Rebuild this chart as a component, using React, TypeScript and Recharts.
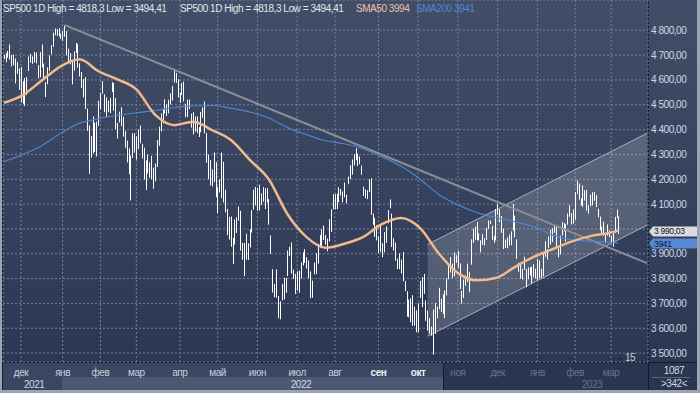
import {
  ComposedChart,
  Bar,
  Line,
  Area,
  XAxis,
  YAxis,
  CartesianGrid,
  ReferenceLine,
} from 'recharts';

const FONT = '"Liberation Sans", Arial, sans-serif';

// daily high / low, 17 Nov 2021 .. 7 Mar 2023
const highs = [
  // nov 2021
  4701, 4708, 4717, 4743, 4701, 4702, 4686, 4672, 4646,
  // dec
  4652, 4595, 4608, 4612, 4695, 4705, 4695, 4713, 4710, 4660, 4712, 4743, 4666, 4591, 4651, 4699, 4740, 4791, 4807, 4805, 4808, 4787,
  // jan 2022
  4797, 4819, 4797, 4726, 4708, 4673, 4715, 4749, 4745, 4667, 4632, 4603, 4611, 4485, 4417, 4375, 4453, 4428, 4432, 4516,
  // feb
  4547, 4595, 4542, 4530, 4517, 4527, 4591, 4588, 4527, 4427, 4472, 4490, 4452, 4395, 4356, 4324, 4295, 4385, 4385,
  // mar
  4373, 4401, 4416, 4343, 4327, 4276, 4299, 4268, 4294, 4247, 4263, 4358, 4412, 4465, 4482, 4522, 4501, 4520, 4546, 4576, 4637, 4628, 4603,
  // apr
  4549, 4587, 4593, 4504, 4521, 4521, 4464, 4471, 4453, 4453, 4410, 4471, 4489, 4513, 4386, 4299, 4277, 4240, 4308, 4269,
  // may
  4169, 4200, 4308, 4270, 4158, 4081, 4049, 4050, 3964, 4038, 4047, 4090, 4073, 3945, 3943, 3981, 3942, 3999, 4076, 4158, 4169,
  // jun
  4166, 4178, 4143, 4168, 4164, 4164, 4120, 3974, 3838, 3778, 3837, 3730, 3708, 3779, 3803, 3802, 3913, 3928, 3945, 3836, 3819,
  // jul
  3829, 3832, 3865, 3906, 3919, 3886, 3873, 3829, 3792, 3864, 3903, 3940, 3975, 3999, 4013, 3975, 3961, 4039, 4079, 4140,
  // aug
  4140, 4141, 4168, 4161, 4151, 4187, 4138, 4211, 4257, 4280, 4301, 4325, 4303, 4292, 4255, 4170, 4159, 4156, 4200, 4204, 4062, 4044, 4015,
  // sep
  3970, 4018, 3942, 3987, 4010, 4076, 4119, 4062, 3962, 3945, 3880, 3902, 3876, 3907, 3790, 3749, 3715, 3720, 3733, 3687, 3672,
  // oct
  3700, 3791, 3806, 3819, 3712, 3671, 3641, 3607, 3675, 3702, 3687, 3763, 3718, 3736, 3752, 3800, 3862, 3887, 3860, 3905, 3894,
  // nov
  3911, 3861, 3751, 3796, 3813, 3860, 3826, 3958, 4001, 4009, 4028, 3983, 3954, 3979, 3962, 4004, 4034, 4034, 4012, 3972, 4080,
  // dec
  4101, 4080, 4052, 4001, 3957, 3966, 3977, 3990, 4101, 4053, 3958, 3864, 3864, 3839, 3888, 3839, 3845, 3846, 3848, 3858, 3840,
  // jan 2023
  3879, 3874, 3839, 3906, 3951, 3919, 3970, 3997, 4003, 4015, 4015, 3922, 3973, 4027, 4024, 4019, 4062, 4095, 4063, 4078,
  // feb
  4148, 4195, 4183, 4124, 4176, 4156, 4157, 4094, 4138, 4148, 4148, 4136, 4081, 4050, 4010, 4029, 3982, 4018, 3994,
  // mar
  3972, 3984, 4049, 4078, 4050,
];

const lows = [
  // nov 2021
  4684, 4672, 4690, 4682, 4655, 4659, 4586, 4625, 4560,
  // dec
  4510, 4504, 4495, 4540, 4636, 4670, 4665, 4671, 4667, 4606, 4611, 4650, 4600, 4531, 4583, 4636, 4703, 4734, 4780, 4778, 4775, 4765,
  // jan 2022
  4758, 4774, 4699, 4671, 4663, 4582, 4638, 4709, 4650, 4614, 4568, 4530, 4483, 4395, 4222, 4287, 4304, 4310, 4292, 4415,
  // feb
  4483, 4545, 4470, 4452, 4471, 4466, 4551, 4477, 4402, 4364, 4429, 4414, 4372, 4327, 4268, 4221, 4114, 4286, 4307,
  // mar
  4279, 4322, 4345, 4284, 4199, 4157, 4223, 4206, 4200, 4162, 4192, 4250, 4335, 4393, 4425, 4465, 4455, 4465, 4501, 4517, 4590, 4588, 4530,
  // apr
  4507, 4539, 4514, 4450, 4451, 4483, 4408, 4381, 4392, 4387, 4370, 4389, 4448, 4385, 4267, 4200, 4175, 4171, 4188, 4128,
  // may
  4063, 4147, 4124, 4107, 4067, 3975, 3957, 3928, 3859, 3937, 3984, 4033, 3913, 3876, 3810, 3876, 3875, 3925, 3985, 4078, 4095,
  // jun
  4073, 4075, 4096, 4110, 4080, 4107, 4017, 3900, 3744, 3725, 3723, 3640, 3636, 3712, 3716, 3743, 3810, 3891, 3820, 3799, 3738,
  // jul
  3752, 3743, 3800, 3853, 3863, 3840, 3802, 3721, 3723, 3818, 3818, 3860, 3926, 3928, 3955, 3937, 3910, 3950, 3988, 4079,
  // aug
  4079, 4080, 4108, 4135, 4107, 4128, 4103, 4180, 4201, 4219, 4256, 4277, 4254, 4261, 4218, 4133, 4124, 4120, 4148, 4057, 4017, 3968, 3954,
  // sep
  3903, 3907, 3886, 3906, 3944, 4023, 4083, 3927, 3913, 3872, 3838, 3838, 3821, 3789, 3750, 3647, 3644, 3624, 3610, 3610, 3584,
  // oct
  3585, 3722, 3685, 3739, 3630, 3591, 3578, 3570, 3494, 3577, 3640, 3677, 3666, 3657, 3640, 3732, 3797, 3825, 3803, 3809, 3863,
  // nov
  3843, 3758, 3699, 3722, 3771, 3786, 3745, 3856, 3944, 3956, 3954, 3954, 3906, 3936, 3933, 3956, 3999, 4020, 3956, 3944, 3954,
  // dec
  4057, 4027, 3984, 3919, 3923, 3922, 3933, 3935, 3994, 3966, 3879, 3827, 3800, 3796, 3835, 3765, 3797, 3813, 3780, 3805, 3801,
  // jan 2023
  3795, 3803, 3802, 3809, 3888, 3877, 3924, 3937, 3947, 3984, 3926, 3886, 3897, 3973, 3990, 3949, 4017, 4049, 4018, 4021,
  // feb
  4037, 4141, 4118, 4094, 4089, 4114, 4073, 4061, 4092, 4095, 4113, 4088, 4047, 3995, 3981, 3972, 3944, 3973, 3968,
  // mar
  3943, 3928, 3984, 4044, 3980,
];

const SLOTS = 341; // bars + empty space on the right

const monthTicks = [9, 31, 51, 70, 93, 113, 134, 155, 175, 198, 219, 240, 261, 282, 302, 321];
const monthLabels = ['дек', 'янв', 'фев', 'мар', 'апр', 'май', 'июн', 'июл', 'авг', 'сен', 'окт', 'ноя', 'дек', 'янв', 'фев', 'мар'];
const yearTicks = [16, 157, 311];
const yearLabels = ['2021', '2022', '2023'];
const priceTicks = [3500, 3600, 3700, 3800, 3900, 4000, 4100, 4200, 4300, 4400, 4500, 4600, 4700, 4800];

// moving averages read every 10 bars
const smaIdx = [0, 10, 20, 30, 40, 50, 60, 70, 80, 90, 100, 110, 120, 130, 140, 150, 160, 170, 180, 190, 200, 210, 220, 230, 240, 250, 260, 270, 280, 290, 300, 310, 320, 325];
const sma50 = [4508, 4539, 4598, 4655, 4683, 4635, 4602, 4562, 4459, 4418, 4432, 4398, 4358, 4278, 4200, 4058, 3967, 3924, 3940, 3968, 4020, 4044, 4003, 3900, 3822, 3793, 3802, 3846, 3887, 3918, 3949, 3971, 3984, 3994];
const sma200 = [4271, 4300, 4335, 4385, 4426, 4444, 4457, 4468, 4477, 4488, 4496, 4497, 4486, 4471, 4447, 4408, 4380, 4355, 4343, 4322, 4290, 4252, 4200, 4138, 4097, 4066, 4046, 4029, 4009, 3975, 3957, 3951, 3947, 3944];

// trend line and channel
const trendIdx = [32, 340];
const trendVal = [4822, 3862];
const channelIdx = [224, 340];
const channelLow = [3568, 4015];
const channelHigh = [3938, 4385];

const lastPrice = 3990.03;
const lastSma50 = 3994;
const lastSma200 = 3941;

const data = Array.from({ length: SLOTS }, (_, i) => {
  const row: any = { i };
  if (i < highs.length) row.range = [lows[i], highs[i]];
  const k = smaIdx.indexOf(i);
  if (k >= 0) {
    row.sma50 = sma50[k];
    row.sma200 = sma200[k];
  }
  const c = channelIdx.indexOf(i);
  if (c >= 0) row.channel = [channelLow[c], channelHigh[c]];
  return row;
});

const fmtPrice = (v: number) => {
  const [a, b] = v.toFixed(2).split('.');
  return a.replace(/\B(?=(\d{3})+(?!\d))/g, ' ') + ',' + b;
};

const txt = { fontFamily: FONT, fontSize: 10, letterSpacing: -0.45 };
const tagTxt = { fontFamily: FONT, fontSize: 8.5, letterSpacing: -0.3 };

const Stick = (p: any) => {
  const { x, y, width, height } = p;
  if (y == null || height == null || isNaN(y)) return null;
  const top = Math.min(y, y + height);
  return (
    <rect
      x={Math.round(x + width / 2 - 0.5)}
      y={top}
      width={1}
      height={Math.max(1, Math.abs(height))}
      fill="#ffffff"
    />
  );
};

// the label under the price tags is covered in the terminal, so skip it
const PriceTick = (p: any) => {
  const v = p.payload.value;
  if (Math.abs(v - lastPrice) < 30) return null;
  return (
    <text x={p.x} y={p.y + 3.5} fill="#d2d8e1" style={txt}>
      {fmtPrice(v)}
    </text>
  );
};

const MonthTick = (p: any) => {
  const k = monthTicks.indexOf(p.payload.value);
  const v = p.payload.value;
  const fill = v >= 240 ? '#67738c' : v >= 198 ? '#eef1f5' : '#c8cfdb';
  return (
    <text x={p.x} y={p.y + 12} textAnchor="middle" fill={fill} style={txt} fontWeight={v >= 198 && v < 240 ? 'bold' : 'normal'}>
      {monthLabels[k]}
    </text>
  );
};

const YearTick = (p: any) => {
  const k = yearTicks.indexOf(p.payload.value);
  return (
    <text x={p.x} y={p.y + 10} textAnchor="middle" fill={k === 2 ? '#67738c' : '#d2d8e1'} style={txt}>
      {yearLabels[k]}
    </text>
  );
};

const PriceTag = ({ viewBox, text, bg, color }: any) => {
  if (!viewBox) return null;
  const x = viewBox.x + viewBox.width + 1;
  const cy = viewBox.y;
  return (
    <g>
      <polygon
        points={`${x},${cy} ${x + 4},${cy - 5} 697,${cy - 5} 697,${cy + 5} ${x + 4},${cy + 5}`}
        fill={bg}
      />
      <text x={x + 5} y={cy + 3} fill={color} style={tagTxt}>
        {text}
      </text>
    </g>
  );
};

const box = (left: number, top: number, width: number, height: number, background: string) => (
  <div style={{ position: 'absolute', left, top, width, height, background }} />
);

export default function App() {
  const plotBg = 'linear-gradient(#424e68, #2c3853)';
  return (
    <div style={{ position: 'fixed', left: 0, top: 0, width: 700, height: 393, background: '#9aa4b3', overflow: 'hidden' }}>
      {box(2, 0, 695, 390, '#141b28')}
      {box(3, 0, 645, 362, plotBg)}
      {box(649, 0, 48, 362, plotBg)}
      {box(3, 363, 440, 14, '#3a4763')}
      {box(3, 377, 59, 13, '#3a4763')}
      {box(62, 377, 381, 13, '#4d5974')}
      {box(444, 363, 204, 27, '#2a354f')}
      {box(649, 363, 48, 27, '#2a354f')}

      <div style={{ position: 'absolute', left: 0, top: 0 }}>
        <ComposedChart width={700} height={393} data={data} margin={{ top: 0, right: 3, bottom: 3, left: 3 }}>
          <CartesianGrid stroke="#7382a0" strokeDasharray="2 2" />
          <XAxis
            dataKey="i"
            type="category"
            ticks={monthTicks}
            interval={0}
            height={14}
            axisLine={false}
            tickLine={false}
            tickSize={0}
            tick={<MonthTick />}
          />
          <XAxis
            xAxisId="yr"
            dataKey="i"
            type="category"
            ticks={yearTicks}
            interval={0}
            height={14}
            axisLine={false}
            tickLine={false}
            tickSize={0}
            tick={<YearTick />}
          />
          <YAxis
            orientation="right"
            width={49}
            domain={[3464, 4922]}
            allowDataOverflow
            ticks={priceTicks}
            interval={0}
            axisLine={false}
            tickLine={false}
            tickSize={0}
            tickMargin={3}
            tick={<PriceTick />}
          />
          <Area
            dataKey="channel"
            type="linear"
            connectNulls
            fill="#ffffff"
            fillOpacity={0.17}
            stroke="#a7afbe"
            strokeWidth={1}
            dot={false}
            activeDot={false}
            isAnimationActive={false}
          />
          <Bar dataKey="range" shape={<Stick />} isAnimationActive={false} />
          <ReferenceLine
            segment={[
              { x: trendIdx[0], y: trendVal[0] },
              { x: trendIdx[1], y: trendVal[1] },
            ]}
            stroke="#8a8e96"
            strokeWidth={2}
          />
          <Line
            dataKey="sma200"
            type="monotone"
            connectNulls
            stroke="#4d84cf"
            strokeWidth={1.2}
            dot={false}
            activeDot={false}
            isAnimationActive={false}
          />
          <Line
            dataKey="sma50"
            type="monotone"
            connectNulls
            stroke="#f2b98d"
            strokeWidth={2.5}
            dot={false}
            activeDot={false}
            isAnimationActive={false}
          />
          <ReferenceLine
            y={lastPrice}
            stroke="none"
            label={<PriceTag text={fmtPrice(lastPrice)} bg="#d8dbe1" color="#151515" />}
          />
          <ReferenceLine
            y={lastSma200}
            stroke="none"
            label={<PriceTag text={String(lastSma200)} bg="#5689d4" color="#0b1833" />}
          />
        </ComposedChart>
      </div>

      <svg width={700} height={393} style={{ position: 'absolute', left: 0, top: 0, pointerEvents: 'none' }}>
        <text x={3} y={11.5} fill="#e3e7ed" style={txt}>SP500 1D High = 4818,3 Low = 3494,41</text>
        <text x={180} y={11.5} fill="#e3e7ed" style={txt}>SP500 1D High = 4818,3 Low = 3494,41</text>
        <text x={356} y={11.5} fill="#ebc2a6" style={txt}>{`SMA50 ${lastSma50}`}</text>
        <text x={416} y={11.5} fill="#4f86d4" style={txt}>{`SMA200 ${lastSma200}`}</text>
        <polygon points="617,360 620,357 623,360" fill="#1f2a40" />
        <text x={625} y={361} fill="#c6cdd8" style={txt}>15</text>
        <text x={674} y={374} textAnchor="middle" fill="#d2d8e1" style={txt}>1087</text>
        <line x1={652} x2={690} y1={377.5} y2={377.5} stroke="#5a657d" />
        <text x={674} y={386.5} textAnchor="middle" fill="#d2d8e1" style={txt}>{'>342<'}</text>
      </svg>
    </div>
  );
}
